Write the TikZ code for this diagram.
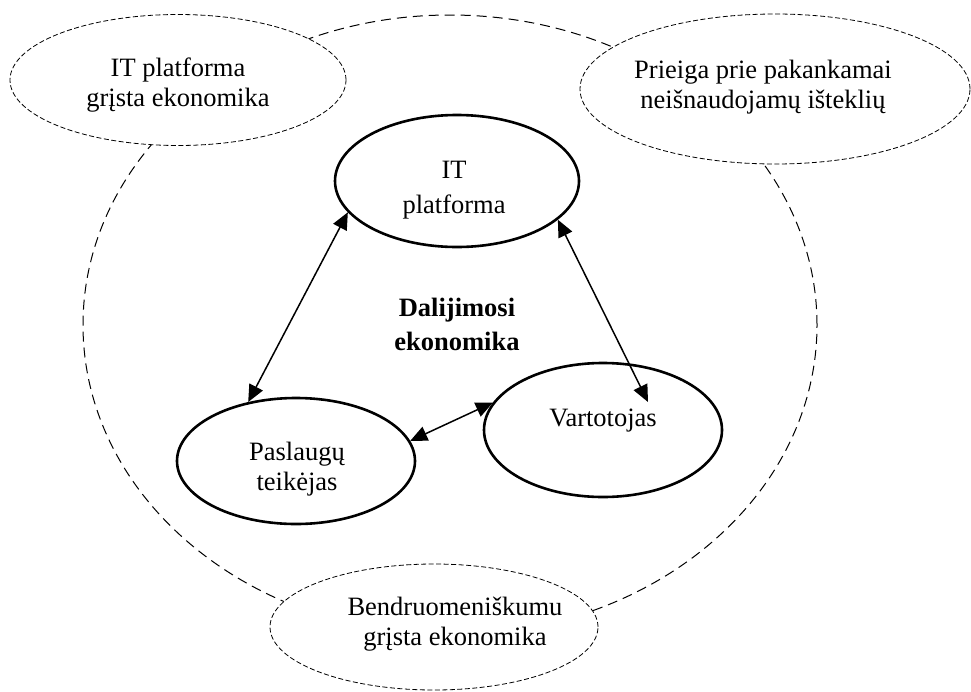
\documentclass[tikz,border=0pt]{standalone}
\usepackage{fontspec}
\setmainfont{Liberation Serif}
\usetikzlibrary{shapes.geometric,arrows.meta}
\begin{document}
\begin{tikzpicture}[x=1pt,y=-1pt,
  outerring/.style={draw, ellipse, line width=1pt, dash pattern=on 10pt off 6pt, inner sep=0pt},
  sector/.style={draw, ellipse, fill=white, line width=0.8pt, dash pattern=on 5pt off 2.5pt, inner sep=0pt},
  actor/.style={draw, ellipse, line width=2.6pt, inner sep=0pt},
  lbl/.style={anchor=base, align=center, inner sep=0pt, font=\fontsize{26.5}{30}\selectfont},
  widelbl/.style={lbl, font=\fontsize{26.5}{35}\selectfont},
  link/.style={line width=1.5pt, {Triangle[length=17pt,width=15pt]}-{Triangle[length=17pt,width=15pt]}},
]
\useasboundingbox (0,0) rectangle (971,691);

% outer ring: the sharing economy as a whole
\node[outerring, minimum width=734pt, minimum height=620pt] (outer) at (450,325) {};

% the three overlapping approaches
\node[sector, minimum width=336pt, minimum height=131pt] (itecon) at (178,80) {};
\node[sector, minimum width=390pt, minimum height=150pt] (access) at (775,89) {};
\node[sector, minimum width=328pt, minimum height=126pt] (commun) at (434,627) {};

% labels are placed by the baseline of their last line
\node[lbl] (itecon-t) at (178,106) {IT platforma\\grįsta ekonomika};
\node[lbl] (access-t) at (763,108) {Prieiga prie pakankamai\\neišnaudojamų išteklių};
\node[lbl] (commun-t) at (455,645) {Bendruomeniškumu\\grįsta ekonomika};

% participants
\node[actor, minimum width=244pt, minimum height=132pt] (itp) at (457,181) {};
\node[actor, minimum width=238pt, minimum height=126pt] (pas) at (296,461) {};
\node[actor, minimum width=238pt, minimum height=134pt] (var) at (603,430) {};

\node[widelbl] (itp-t) at (454,213) {IT\\platforma};
\node[lbl] (pas-t) at (297,490) {Paslaugų\\teikėjas};
\node[lbl] (var-t) at (603,426) {Vartotojas};

\node[widelbl, font=\bfseries\fontsize{26.5}{34}\selectfont] (core) at (457,350) {Dalijimosi\\ekonomika};

% relations
\coordinate (vartip) at (648,402);
\draw[link] (itp.196) -- (pas.129);
\draw[link] (itp.-21) -- (vartip);
\draw[link] (pas.10) -- (var.166);
\end{tikzpicture}
\end{document}
